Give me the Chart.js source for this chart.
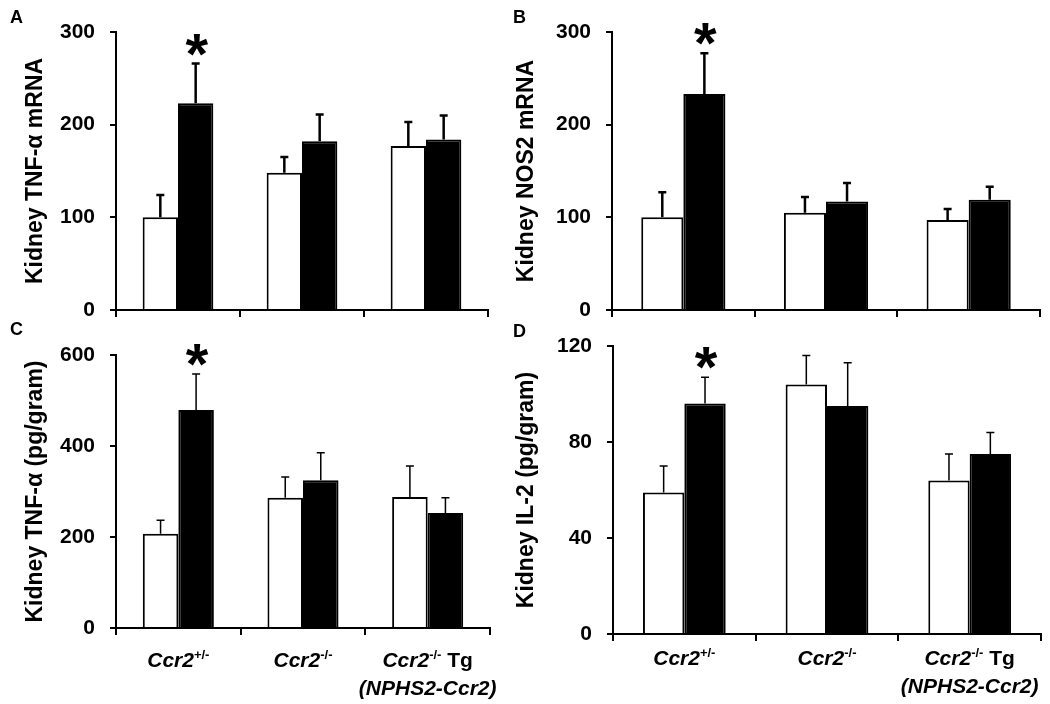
<!DOCTYPE html>
<html>
<head>
<meta charset="utf-8">
<script src="https://cdn.jsdelivr.net/npm/chart.js@4.4.1/dist/chart.umd.min.js"></script>
<style>
  body { margin: 0; background: #fff; }
  #wrap { position: relative; width: 1050px; height: 704px; overflow: hidden; }
  canvas { position: absolute; }
  .letter { position: absolute; font: bold 18px "Liberation Sans", Arial, sans-serif; line-height: 1; color: #000; z-index: 5; }
</style>
</head>
<body>
<div id="wrap">
  <canvas id="panelA" width="500" height="330" style="left:0;top:0"></canvas>
  <canvas id="panelB" width="550" height="330" style="left:500px;top:0"></canvas>
  <canvas id="panelC" width="500" height="374" style="left:0;top:330px"></canvas>
  <canvas id="panelD" width="550" height="374" style="left:500px;top:330px"></canvas>
  <div class="letter" style="left:10px;top:8px">A</div>
  <div class="letter" style="left:513px;top:8px">B</div>
  <div class="letter" style="left:10px;top:320px">C</div>
  <div class="letter" style="left:513px;top:322px">D</div>
</div>
<script>
// genotype groups on the x axis
const genotypes = ['Ccr2+/-', 'Ccr2-/-', 'Ccr2-/- Tg (NPHS2-Ccr2)'];
// asterisk over the black bar of these groups
const significant = [true, false, false];

// A - kidney TNF-a mRNA
const tnfMrnaCtrl = [100, 148, 177];
const tnfMrnaCtrlSem = [24, 17, 26];
const tnfMrnaDisease = [223, 182, 184];
const tnfMrnaDiseaseSem = [43, 29, 26];
const tnfMrnaTicks = [0, 100, 200, 300];

// B - kidney NOS2 mRNA
const nos2Ctrl = [100, 105, 97];
const nos2CtrlSem = [27, 17, 12];
const nos2Disease = [233, 117, 119];
const nos2DiseaseSem = [44, 20, 14];
const nos2Ticks = [0, 100, 200, 300];

// C - kidney TNF-a protein (pg/gram)
const tnfProtCtrl = [207, 286, 288];
const tnfProtCtrlSem = [30, 46, 68];
const tnfProtDisease = [479, 325, 253];
const tnfProtDiseaseSem = [79, 60, 33];
const tnfProtTicks = [0, 200, 400, 600];

// D - kidney IL-2 (pg/gram)
const il2Ctrl = [59, 104, 64];
const il2CtrlSem = [11, 12, 11];
const il2Disease = [96, 95, 75];
const il2DiseaseSem = [11, 18, 9];
const il2Ticks = [0, 40, 80, 120];

const FONT = '"Liberation Sans", Arial, sans-serif';

// rich x labels: i = italic, s = superscript, n = plain
const labelParts = [
  [[['Ccr2', 'i'], ['+/-', 's']]],
  [[['Ccr2', 'i'], ['-/-', 's']]],
  [[['Ccr2', 'i'], ['-/-', 's'], [' Tg', 'n']], [['(NPHS2-Ccr2)', 'i']]]
];

function partFont(kind) {
  if (kind === 'i') return 'italic bold 21px ' + FONT;
  if (kind === 's') return 'bold 13px ' + FONT;
  return 'bold 21px ' + FONT;
}

const extras = {
  id: 'extras',
  afterDatasetsDraw(chart, args, o) {
    const ctx = chart.ctx;
    const ys = chart.scales.y;
    ctx.save();
    ctx.strokeStyle = '#000';
    ctx.lineWidth = o.errWidth;
    o.sem.forEach((sems, di) => {
      const meta = chart.getDatasetMeta(di);
      const vals = chart.data.datasets[di].data;
      meta.data.forEach((bar, i) => {
        const top = ys.getPixelForValue(vals[i] + sems[i]);
        ctx.beginPath();
        ctx.moveTo(bar.x, bar.y);
        ctx.lineTo(bar.x, top);
        ctx.moveTo(bar.x - 4, top);
        ctx.lineTo(bar.x + 4, top);
        ctx.stroke();
      });
    });
    // significance stars
    const meta1 = chart.getDatasetMeta(1);
    const vals1 = chart.data.datasets[1].data;
    ctx.fillStyle = '#000';
    ctx.font = 'bold 58px ' + FONT;
    ctx.textAlign = 'center';
    ctx.textBaseline = 'alphabetic';
    significant.forEach((s, i) => {
      if (!s) return;
      const top = ys.getPixelForValue(vals1[i] + o.sem[1][i]);
      ctx.fillText('*', meta1.data[i].x + 1, top - 22 + 32);
    });
    ctx.restore();
  },
  afterDraw(chart, args, o) {
    if (!o.xLabels) return;
    const ctx = chart.ctx;
    ctx.save();
    ctx.fillStyle = '#000';
    ctx.textBaseline = 'alphabetic';
    ctx.textAlign = 'left';
    const xs = chart.scales.x;
    const base = chart.chartArea.bottom;
    labelParts.forEach((lines, i) => {
      const cx = xs.getPixelForValue(i);
      lines.forEach((parts, li) => {
        let w = 0;
        parts.forEach(p => { ctx.font = partFont(p[1]); w += ctx.measureText(p[0]).width; });
        let x = cx - w / 2;
        const y = base + o.labelOffset + li * 28;
        parts.forEach(p => {
          ctx.font = partFont(p[1]);
          ctx.fillText(p[0], x, p[1] === 's' ? y - 8 : y);
          x += ctx.measureText(p[0]).width;
        });
      });
    });
    ctx.restore();
  }
};

function makePanel(id, p) {
  new Chart(document.getElementById(id), {
    type: 'bar',
    data: {
      labels: genotypes,
      datasets: [
        { data: p.ctrl, backgroundColor: '#fff', borderColor: '#000', borderWidth: 2 },
        { data: p.disease, backgroundColor: '#000', borderColor: '#000', borderWidth: 2 }
      ]
    },
    options: {
      responsive: false,
      animation: false,
      devicePixelRatio: 1,
      categoryPercentage: p.catPct,
      barPercentage: 1,
      layout: { padding: { top: p.top, right: p.right, left: 0, bottom: 0 } },
      plugins: {
        legend: { display: false },
        tooltip: { enabled: false },
        extras: {
          sem: [p.ctrlSem, p.diseaseSem],
          errWidth: p.errWidth,
          xLabels: p.xLabels,
          labelOffset: p.labelOffset
        }
      },
      scales: {
        x: {
          offset: true,
          grid: { offset: true, drawOnChartArea: false, color: '#000', lineWidth: 2, tickLength: 7 },
          border: { color: '#000', width: 2 },
          ticks: { display: false },
          afterFit(s) { s.height = p.xHeight; s.paddingLeft = 0; s.paddingRight = 0; }
        },
        y: {
          min: p.ticks[0],
          max: p.ticks[p.ticks.length - 1],
          afterBuildTicks(s) { s.ticks = p.ticks.map(v => ({ value: v })); },
          grid: { drawOnChartArea: false, color: '#000', lineWidth: 2, tickLength: 6 },
          border: { color: '#000', width: 2 },
          ticks: { color: '#000', padding: 15, font: { family: FONT, size: 21, weight: 'bold' } },
          title: {
            display: true,
            text: p.title,
            color: '#000',
            font: { family: FONT, size: 23, weight: 'bold' },
            padding: { top: p.titlePad, bottom: 0 }
          },
          afterFit(s) { s.width = p.yWidth; s.paddingTop = 0; s.paddingBottom = 0; }
        }
      }
    },
    plugins: [extras]
  });
}

makePanel('panelA', {
  ctrl: tnfMrnaCtrl, ctrlSem: tnfMrnaCtrlSem, disease: tnfMrnaDisease, diseaseSem: tnfMrnaDiseaseSem,
  ticks: tnfMrnaTicks, title: 'Kidney TNF-\u03b1 mRNA',
  yWidth: 116, xHeight: 20, top: 32, right: 12, titlePad: 22, catPct: 0.57,
  errWidth: 2.5, xLabels: false
});
makePanel('panelB', {
  ctrl: nos2Ctrl, ctrlSem: nos2CtrlSem, disease: nos2Disease, diseaseSem: nos2DiseaseSem,
  ticks: nos2Ticks, title: 'Kidney NOS2 mRNA',
  yWidth: 112, xHeight: 20, top: 32, right: 10, titlePad: 13, catPct: 0.59,
  errWidth: 2.5, xLabels: false
});
makePanel('panelC', {
  ctrl: tnfProtCtrl, ctrlSem: tnfProtCtrlSem, disease: tnfProtDisease, diseaseSem: tnfProtDiseaseSem,
  ticks: tnfProtTicks, title: 'Kidney TNF-\u03b1 (pg/gram)',
  yWidth: 116, xHeight: 76, top: 25, right: 10, titlePad: 22, catPct: 0.57,
  errWidth: 1.5, xLabels: true, labelOffset: 39
});
makePanel('panelD', {
  ctrl: il2Ctrl, ctrlSem: il2CtrlSem, disease: il2Disease, diseaseSem: il2DiseaseSem,
  ticks: il2Ticks, title: 'Kidney IL-2 (pg/gram)',
  yWidth: 113, xHeight: 70, top: 16, right: 9, titlePad: 13, catPct: 0.58,
  errWidth: 1.5, xLabels: true, labelOffset: 31
});
</script>
</body>
</html>
